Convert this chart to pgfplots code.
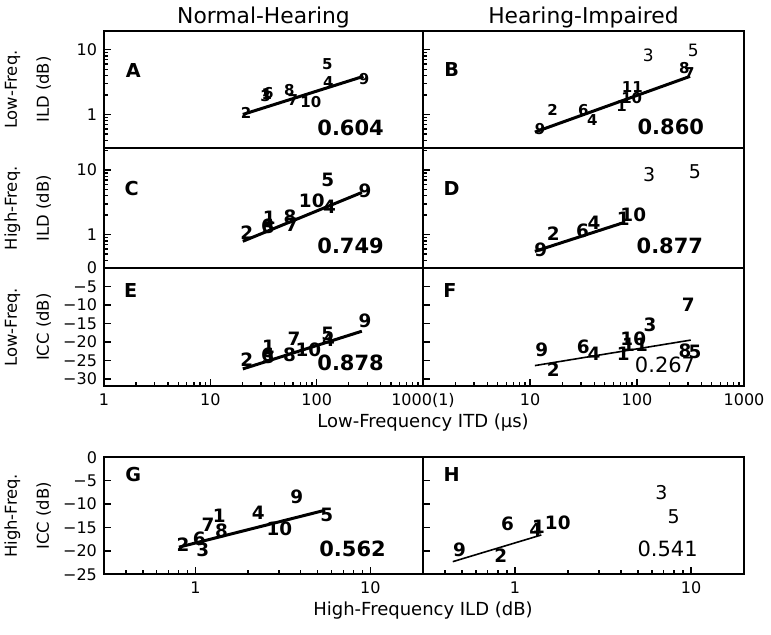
\documentclass[border=0pt]{standalone}
\usepackage{fontspec}
\setmainfont{DejaVu Sans}
\usepackage{pgfplots}
\pgfplotsset{compat=1.18}

\pgfplotsset{
  panel/.style={
    scale only axis, anchor=north west,
    tick align=inside, tick pos=left,
    major tick length=3.5pt, minor tick length=2pt,
    axis line style={line width=0.9pt},
    every tick/.append style={black, line width=0.7pt},
    tick label style={font=\fontsize{8}{9.6}\selectfont},
    every axis y label/.style={at={(axis description cs:-0.144,0.5)}, rotate=90, anchor=south,
      align=center, font=\fontsize{8.2}{16}\selectfont},
    every axis title/.style={at={(0.5,1)}, anchor=base, yshift=3.5pt, font=\fontsize{10.9}{13}\selectfont},
  },
  lbl/.style={only marks, mark=none, nodes near coords, nodes near coords align={center},
    point meta=explicit symbolic},
  bsmall/.style={lbl, every node near coord/.append style={font=\bfseries\fontsize{7.5}{8}\selectfont}},
  nsmall/.style={lbl, every node near coord/.append style={font=\fontsize{8.5}{9}\selectfont}},
  bbig/.style={lbl, every node near coord/.append style={font=\bfseries\fontsize{9.2}{10}\selectfont}},
  nbig/.style={lbl, every node near coord/.append style={font=\fontsize{9.5}{10}\selectfont}},
  thickfit/.style={black, line width=1.5pt},
  thinfit/.style={black, line width=0.8pt},
}
\tikzset{
  letter/.style={font=\bfseries\fontsize{9.6}{11}\selectfont},
  rbold/.style={font=\bfseries\fontsize{10.5}{12}\selectfont},
  rnorm/.style={font=\fontsize{10.5}{12}\selectfont},
}

\begin{document}
\begin{tikzpicture}
\useasboundingbox (0,0) rectangle (385.5pt,-317.5pt);

% ---- row 1: low-frequency ILD
\begin{axis}[panel, width=159.5pt, height=58.65pt, at={(52pt,-15.5pt)},
  xmode=log, ymode=log, xmin=1, xmax=1000, ymin=0.3, ymax=19.5, xtick=\empty,
  ytick={1,10}, yticklabels={1,10},
  minor ytick={0.3,0.4,0.5,0.6,0.7,0.8,0.9,2,3,4,5,6,7,8,9},
  ylabel={Low-Freq.\\ILD (dB)}, title={Normal-Hearing}]
\addplot[thickfit] coordinates {(20.2,1.0) (275,3.88)};
\addplot[bsmall] table[meta=l] {
x y l
21.7 1.06 2
34.0 2.05 1
33.0 1.95 3
35.1 2.16 6
55.4 2.37 8
59.6 1.66 7
88 1.55 10
126 6.03 5
129 3.18 4
279 3.54 9
};
\node[letter] at (rel axis cs:0.092,0.662) {A};
\node[rbold] at (rel axis cs:0.773,0.17) {0.604};
\end{axis}

\begin{axis}[panel, width=160.5pt, height=58.65pt, at={(211.5pt,-15.5pt)},
  xmode=log, ymode=log, xmin=1, xmax=1000, ymin=0.3, ymax=19.5, xtick=\empty,
  ytick={1,10}, yticklabels={,},
  minor ytick={0.3,0.4,0.5,0.6,0.7,0.8,0.9,2,3,4,5,6,7,8,9},
  title={Hearing-Impaired}]
\addplot[thickfit] coordinates {(11.1,0.534) (313,3.88)};
\addplot[bsmall] table[meta=l] {
x y l
12.4 0.603 9
16.3 1.19 2
31.5 1.19 6
38.2 0.817 4
71.9 1.37 1
89.2 1.81 10
90.4 2.67 11
277 5.23 8
308 4.38 7
};
\addplot[nsmall] table[meta=l] {
x y l
127.5 8.09 3
336 9.77 5
};
\node[letter] at (rel axis cs:0.089,0.673) {B};
\node[rbold] at (rel axis cs:0.772,0.179) {0.860};
\end{axis}

% ---- row 2: high-frequency ILD
\begin{axis}[panel, width=159.5pt, height=60pt, at={(52pt,-74.15pt)},
  xmode=log, ymode=log, xmin=1, xmax=1000, ymin=0.3, ymax=21.8, xtick=\empty,
  ytick={1,10}, yticklabels={1,10},
  minor ytick={0.3,0.4,0.5,0.6,0.7,0.8,0.9,2,3,4,5,6,7,8,9,20},
  ylabel={High-Freq.\\ILD (dB)}]
\addplot[thickfit] coordinates {(20.2,0.787) (266,4.5)};
\addplot[bbig] table[meta=l] {
x y l
22 1.07 2
35.9 1.81 1
35.2 1.31 3
34.5 1.35 6
56.2 1.88 8
58.3 1.40 7
89.9 3.30 10
131.8 2.69 4
127 6.99 5
285 4.71 9
};
\node[letter] at (rel axis cs:0.087,0.667) {C};
\node[rbold] at (rel axis cs:0.773,0.188) {0.749};
\end{axis}

\begin{axis}[panel, width=160.5pt, height=60pt, at={(211.5pt,-74.15pt)},
  xmode=log, ymode=log, xmin=1, xmax=1000, ymin=0.3, ymax=21.8, xtick=\empty,
  ytick={1,10}, yticklabels={,},
  minor ytick={0.3,0.4,0.5,0.6,0.7,0.8,0.9,2,3,4,5,6,7,8,9,20}]
\addplot[thickfit] coordinates {(11.1,0.55) (75.6,1.54)};
\addplot[bbig] table[meta=l] {
x y l
12.6 0.59 9
16.5 1.04 2
31 1.13 6
39.6 1.54 4
74.5 1.73 1
92.3 2.0 10
};
\addplot[nbig] table[meta=l] {
x y l
130 8.57 3
348 9.41 5
};
\node[letter] at (rel axis cs:0.089,0.667) {D};
\node[rbold] at (rel axis cs:0.769,0.188) {0.877};
\end{axis}

% ---- row 3: low-frequency ICC
\begin{axis}[panel, width=159.5pt, height=59.15pt, at={(52pt,-134pt)},
  xmode=log, xmin=1, xmax=1000, ymin=-32, ymax=0,
  xtick={1,10,100,1000}, xticklabels={1,10,100,{}},
  minor xtick={2,3,4,5,6,7,8,9,20,30,40,50,60,70,80,90,200,300,400,500,600,700,800,900},
  ytick={-30,-25,-20,-15,-10,-5,0}, yticklabels={−30,−25,−20,−15,−10,−5,0},
  ylabel={Low-Freq.\\ICC (dB)},
  xlabel={Low-Frequency ITD (μs)},
  every axis x label/.style={at={(axis description cs:1,0)}, anchor=base, yshift=-20.8pt,
    font=\fontsize{9}{11}\selectfont}]
\addplot[thickfit] coordinates {(20.2,-27.3) (266,-17.1)};
\addplot[bbig] table[meta=l] {
x y l
22 -24.9 2
35.2 -21.3 1
35.2 -24.0 3
34.5 -23.6 6
55.4 -23.4 8
61.3 -19.1 7
83.6 -22.2 10
127 -17.7 5
129 -19.5 4
285 -14.4 9
};
\node[letter] at (rel axis cs:0.084,0.812) {E};
\node[rbold] at (rel axis cs:0.773,0.194) {0.878};
\end{axis}

\begin{axis}[panel, width=160.5pt, height=59.15pt, at={(211.5pt,-134pt)},
  xmode=log, xmin=1, xmax=1000, ymin=-32, ymax=0,
  xtick={1,10,100,1000}, xticklabels={1000(1),10,100,1000},
  minor xtick={2,3,4,5,6,7,8,9,20,30,40,50,60,70,80,90,200,300,400,500,600,700,800,900},
  ytick={-30,-25,-20,-15,-10,-5,0}, yticklabels={,,,,,,}]
\addplot[thinfit] coordinates {(11.1,-26.4) (318,-19.5)};
\addplot[bbig] table[meta=l] {
x y l
12.9 -22.2 9
16.5 -27.6 2
31.5 -21.3 6
39.6 -23.1 4
74.5 -23.1 1
92.3 -19.1 10
95.8 -20.9 11
132 -15.5 3
302 -9.9 7
281 -22.5 8
348 -22.8 5
};
\node[letter] at (rel axis cs:0.084,0.812) {F};
\node[rnorm] at (rel axis cs:0.754,0.185) {0.267};
\end{axis}

% ---- row 4: high-frequency ICC vs high-frequency ILD
\begin{axis}[panel, width=159.5pt, height=58.5pt, at={(52pt,-228.65pt)},
  xmode=log, xmin=0.3, xmax=20, ymin=-25, ymax=0,
  xtick={1,10}, xticklabels={1,10},
  minor xtick={0.3,0.4,0.5,0.6,0.7,0.8,0.9,2,3,4,5,6,7,8,9},
  ytick={-25,-20,-15,-10,-5,0}, yticklabels={−25,−20,−15,−10,−5,0},
  ylabel={High-Freq.\\ICC (dB)},
  xlabel={High-Frequency ILD (dB)},
  every axis x label/.style={at={(axis description cs:1,0)}, anchor=base, yshift=-20.8pt,
    font=\fontsize{9}{11}\selectfont}]
\addplot[thickfit] coordinates {(0.805,-19.2) (5.52,-11.3)};
\addplot[bbig] table[meta=l] {
x y l
0.849 -18.7 2
1.05 -17.5 6
1.10 -19.8 3
1.18 -14.5 7
1.37 -12.5 1
1.41 -15.7 8
2.29 -11.8 4
3.02 -15.2 10
3.80 -8.4 9
5.64 -12.3 5
};
\node[letter] at (rel axis cs:0.092,0.857) {G};
\node[rbold] at (rel axis cs:0.779,0.214) {0.562};
\end{axis}

\begin{axis}[panel, width=160.5pt, height=58.5pt, at={(211.5pt,-228.65pt)},
  xmode=log, xmin=0.3, xmax=20, ymin=-25, ymax=0,
  xtick={1,10}, xticklabels={1,10},
  minor xtick={0.3,0.4,0.5,0.6,0.7,0.8,0.9,2,3,4,5,6,7,8,9},
  ytick={-25,-20,-15,-10,-5,0}, yticklabels={,,,,,}]
\addplot[thinfit] coordinates {(0.443,-22.3) (1.41,-16.6)};
\addplot[bbig] table[meta=l] {
x y l
0.483 -19.8 9
0.831 -21.1 2
0.907 -14.3 6
1.36 -14.8 1
1.31 -15.5 4
1.75 -14.0 10
};
\addplot[nbig] table[meta=l] {
x y l
6.79 -7.6 3
7.96 -12.8 5
};
\node[letter] at (rel axis cs:0.089,0.857) {H};
\node[rnorm] at (rel axis cs:0.762,0.214) {0.541};
\end{axis}
\end{tikzpicture}
\end{document}
